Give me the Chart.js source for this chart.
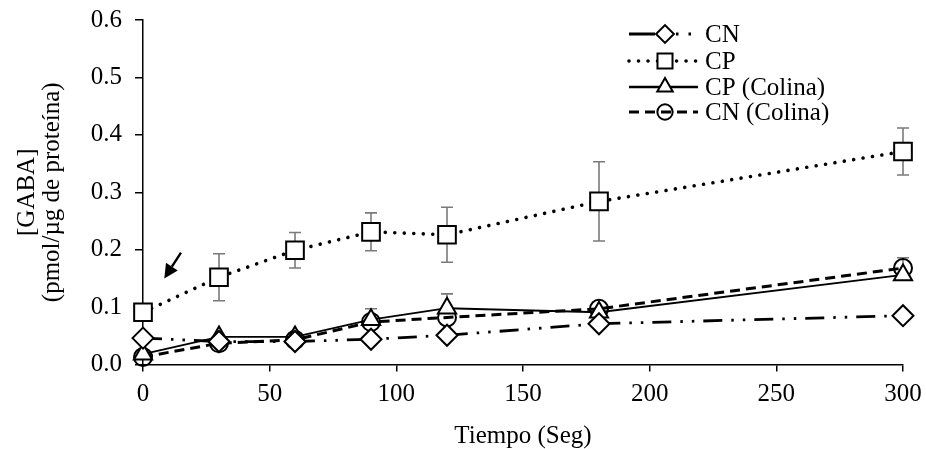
<!DOCTYPE html>
<html>
<head>
<meta charset="utf-8">
<script src="https://cdn.jsdelivr.net/npm/chart.js@4.4.1/dist/chart.umd.min.js"></script>
<style>
html,body{margin:0;padding:0;background:#fff;}
#wrap{width:926px;height:449px;position:relative;}
</style>
</head>
<body>
<div id="wrap"><canvas id="c" width="926" height="449"></canvas></div>
<script>
// ---- data ----
const times = [0, 30, 60, 90, 120, 180, 300];
const xTicks = [0, 50, 100, 150, 200, 250, 300];
const yTicks = [0.0, 0.1, 0.2, 0.3, 0.4, 0.5, 0.6];
const seriesNames = ['CN', 'CP', 'CP (Colina)', 'CN (Colina)'];
const cnValues     = [0.046, 0.040, 0.040, 0.044, 0.051, 0.071, 0.085];
const cpValues     = [0.091, 0.152, 0.199, 0.231, 0.226, 0.284, 0.371];
const cpErrors     = [0, 0.041, 0.031, 0.033, 0.048, 0.069, 0.041];
const cpColValues  = [0.018, 0.048, 0.048, 0.078, 0.098, 0.091, 0.156];
const cpColErrUp   = [0, 0, 0, 0.019, 0.025, 0, 0.030];
const cnColValues  = [0.013, 0.037, 0.043, 0.074, 0.082, 0.097, 0.168];
const arrowFrom = {x: 15, y: 0.195};
const arrowTo   = {x: 8.4, y: 0.150};
const xTitle = 'Tiempo (Seg)';
const yTitle = ['[GABA]', '(pmol/µg de proteína)'];

const FONT = 'Liberation Serif, Times New Roman, serif';
const FS = 25;
const pts = (vals) => times.map((t, i) => ({x: t, y: vals[i]}));

const datasets = [
  {label: seriesNames[0], data: pts(cnValues), borderColor: '#000', borderWidth: 2.8,
   borderDash: [19, 9, 2.5, 9, 2.5, 9], legendDash: [26, 21, 2.5, 10, 2.5, 100], pointStyle: 'rectRot', pointRadius: 10.5,
   pointBackgroundColor: '#fff', pointBorderColor: '#000', pointBorderWidth: 2, errUp: null, errDown: null},
  {label: seriesNames[1], data: pts(cpValues), borderColor: '#000', borderWidth: 3.6,
   borderDash: [0.01, 9.5], borderCapStyle: 'round', pointStyle: 'rect', pointRadius: 12.5,
   pointBackgroundColor: '#fff', pointBorderColor: '#000', pointBorderWidth: 2, errUp: cpErrors, errDown: cpErrors},
  {label: seriesNames[2], data: pts(cpColValues), borderColor: '#000', borderWidth: 1.8,
   borderDash: [], pointStyle: 'triangle', pointRadius: 10.5,
   pointBackgroundColor: '#fff', pointBorderColor: '#000', pointBorderWidth: 2, errUp: cpColErrUp, errDown: null},
  {label: seriesNames[3], data: pts(cnColValues), borderColor: '#000', borderWidth: 3,
   borderDash: [10, 6], pointStyle: 'circle', pointRadius: 9,
   pointBackgroundColor: 'rgba(255,255,255,0)', pointBorderColor: '#000', pointBorderWidth: 2, errUp: null, errDown: null}
];
datasets.forEach(d => { d.tension = 0; d.fill = false; d.clip = false; d.pointHoverRadius = d.pointRadius; });

const errorBars = {
  id: 'errorBars',
  beforeDatasetsDraw(chart) {
    const ctx = chart.ctx, xs = chart.scales.x, ys = chart.scales.y;
    ctx.save();
    ctx.strokeStyle = '#7a7a7a';
    ctx.lineWidth = 1.6;
    ctx.setLineDash([]);
    chart.data.datasets.forEach(ds => {
      ds.data.forEach((p, i) => {
        const up = ds.errUp ? ds.errUp[i] : 0;
        const dn = ds.errDown ? ds.errDown[i] : 0;
        if (!up && !dn) return;
        const px = xs.getPixelForValue(p.x);
        const yTop = ys.getPixelForValue(p.y + up);
        const yBot = ys.getPixelForValue(p.y - dn);
        ctx.beginPath();
        ctx.moveTo(px, yTop); ctx.lineTo(px, yBot);
        if (up) { ctx.moveTo(px - 6, yTop); ctx.lineTo(px + 6, yTop); }
        if (dn) { ctx.moveTo(px - 6, yBot); ctx.lineTo(px + 6, yBot); }
        ctx.stroke();
      });
    });
    ctx.restore();
  }
};

const legendAndArrow = {
  id: 'legendAndArrow',
  afterDraw(chart) {
    const ctx = chart.ctx, xs = chart.scales.x, ys = chart.scales.y;
    // arrow
    const x1 = xs.getPixelForValue(arrowFrom.x), y1 = ys.getPixelForValue(arrowFrom.y);
    const x2 = xs.getPixelForValue(arrowTo.x), y2 = ys.getPixelForValue(arrowTo.y);
    const ang = Math.atan2(y2 - y1, x2 - x1);
    const hl = 14, hw = 7;
    const bx = x2 - hl * Math.cos(ang), by = y2 - hl * Math.sin(ang);
    ctx.save();
    ctx.strokeStyle = '#000'; ctx.fillStyle = '#000'; ctx.lineWidth = 2.4; ctx.setLineDash([]);
    ctx.beginPath(); ctx.moveTo(x1, y1); ctx.lineTo(bx, by); ctx.stroke();
    ctx.beginPath();
    ctx.moveTo(x2, y2);
    ctx.lineTo(bx + hw * Math.sin(ang), by - hw * Math.cos(ang));
    ctx.lineTo(bx - hw * Math.sin(ang), by + hw * Math.cos(ang));
    ctx.closePath(); ctx.fill();
    // legend
    const lx0 = 629, lx1 = 698, mx = 665, tx = 705;
    const rows = [34, 61, 87, 112];
    ctx.font = FS + 'px ' + FONT;
    ctx.textBaseline = 'middle';
    ctx.textAlign = 'left';
    chart.data.datasets.forEach((ds, i) => {
      const y = rows[i];
      ctx.save();
      ctx.strokeStyle = '#000';
      ctx.lineWidth = Math.max(ds.borderWidth, 2.4);
      ctx.lineCap = ds.borderCapStyle || 'butt';
      ctx.setLineDash(ds.legendDash || ds.borderDash || []);
      ctx.beginPath(); ctx.moveTo(lx0, y); ctx.lineTo(lx1, y); ctx.stroke();
      ctx.restore();
      ctx.save();
      ctx.strokeStyle = '#000'; ctx.fillStyle = ds.pointBackgroundColor; ctx.lineWidth = 2; ctx.setLineDash([]);
      const r = ds.pointRadius * 0.85;
      Chart.helpers.drawPoint(ctx, {pointStyle: ds.pointStyle, rotation: 0, radius: r, borderWidth: 2}, mx, y);
      ctx.restore();
      ctx.fillStyle = '#000';
      ctx.fillText(ds.label, tx, y + 1);
    });
    ctx.restore();
  }
};

const zeroPad = (s) => { s.paddingTop = 0; s.paddingBottom = 0; s.paddingLeft = 0; s.paddingRight = 0; };

new Chart(document.getElementById('c'), {
  type: 'line',
  data: {datasets},
  plugins: [errorBars, legendAndArrow],
  options: {
    responsive: false,
    animation: false,
    events: [],
    layout: {padding: {left: 0, top: 20, right: 23, bottom: 0}},
    plugins: {legend: {display: false}, tooltip: {enabled: false}},
    scales: {
      x: {
        type: 'linear', min: 0, max: 300,
        afterBuildTicks: (s) => { s.ticks = xTicks.map(v => ({value: v})); },
        afterFit: (s) => { s.height = 84.5; zeroPad(s); },
        grid: {drawOnChartArea: false, drawTicks: true, tickLength: 7, color: '#000', lineWidth: 1.5},
        border: {color: '#000', width: 1.5},
        ticks: {color: '#000', padding: 8, maxRotation: 0, font: {family: FONT, size: FS}},
        title: {display: true, text: xTitle, color: '#000', font: {family: FONT, size: FS, lineHeight: 1.0}, padding: {top: 0, bottom: 0}}
      },
      y: {
        type: 'linear', min: 0, max: 0.6,
        afterBuildTicks: (s) => { s.ticks = yTicks.map(v => ({value: v})); },
        afterFit: (s) => { s.width = 143; zeroPad(s); },
        grid: {drawOnChartArea: false, drawTicks: true, tickLength: 8, color: '#000', lineWidth: 1.5},
        border: {color: '#000', width: 1.5},
        ticks: {color: '#000', padding: 13, font: {family: FONT, size: FS}, callback: (v) => Number(v).toFixed(1)},
        title: {display: true, text: yTitle, color: '#000', font: {family: FONT, size: FS, lineHeight: 1.0}, padding: {top: 14.5, bottom: 0}}
      }
    }
  }
});
</script>
</body>
</html>
